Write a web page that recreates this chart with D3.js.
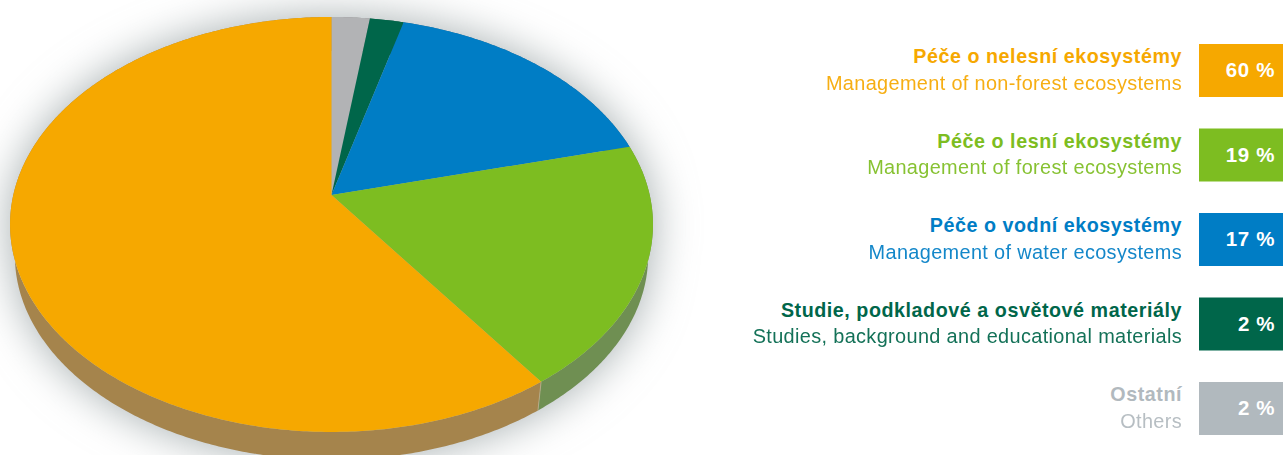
<!DOCTYPE html>
<html>
<head>
<meta charset="utf-8">
<script src="https://cdn.jsdelivr.net/npm/d3@7"></script>
<style>
  html, body { margin: 0; padding: 0; background: #fff; overflow: hidden; }
  text { font-family: "Liberation Sans", sans-serif; }
</style>
</head>
<body>
<div id="chart"></div>
<script>
const titles = ["Péče o nelesní ekosystémy", "Péče o lesní ekosystémy", "Péče o vodní ekosystémy", "Studie, podkladové a osvětové materiály", "Ostatní"];
const subtitles = ["Management of non-forest ecosystems", "Management of forest ecosystems", "Management of water ecosystems", "Studies, background and educational materials", "Others"];
const shares = [60, 19, 17, 2, 2];
// slice sizes as measured on the disc, the printed labels are rounded
const measuredShares = [59.9, 19.05, 16.9, 1.95, 2.2];
const legendColors = ["#f6a800", "#7dbd21", "#007dc5", "#00664a", "#b1b9be"];
const faceColors = ["#f6a800", "#7dbd21", "#007dc5", "#00664a", "#b2b3b5"];
const wallColors = ["#a5844c", "#6f8f52", "#3c6f8c", "#1d5a48", "#8d8d8d"];

// slices run clockwise from 12 o'clock: grey, dark green, blue, lime, orange
const sliceOrder = [4, 3, 2, 1, 0];

const width = 1283, height = 455;

const svg = d3.select("#chart").append("svg")
    .attr("width", width)
    .attr("height", height);

const defs = svg.append("defs");
defs.append("filter")
    .attr("id", "blur")
    .attr("x", "-20%").attr("y", "-20%")
    .attr("width", "140%").attr("height", "140%")
    .append("feGaussianBlur")
    .attr("stdDeviation", 22);

// pie lies on a tilted plane, so the centre sits above the middle of the ellipse
const apexX = 331.5, apexY = 195;
const tilt = 0.142, scaleU = 318.2, scaleV = 203.3;

const project = (angle, shrink = 1, drop = 0) => {
    const u = Math.sin(angle), v = -Math.cos(angle);
    const w = 1 - tilt * v;
    return [
        apexX + shrink * scaleU * u / w,
        apexY + drop + shrink * scaleV * v / w + (1 - shrink) * 29.5
    ];
};

const arcPoints = (a0, a1, shrink, drop) => {
    const n = Math.max(2, Math.ceil((a1 - a0) / 0.01));
    return d3.range(n + 1).map((i) => project(a0 + (a1 - a0) * i / n, shrink, drop));
};

const line = d3.line().curve(d3.curveLinear);

const pie = d3.pie().sort(null).value((d) => measuredShares[d]);
const slices = pie(sliceOrder);

const wallShrink = 0.985, wallDrop = 31;

// soft shadow round the whole disc
const shadow = svg.append("g").attr("filter", "url(#blur)").attr("fill", "#a4adaf");
shadow.append("path").attr("d", line(arcPoints(0, 2 * Math.PI, 1, 0)) + "Z");
shadow.append("path").attr("d", line(arcPoints(0, 2 * Math.PI, wallShrink, wallDrop)) + "Z");

// side wall
svg.append("g").selectAll("path")
    .data(slices)
    .join("path")
    .attr("d", (d) => {
        const top = arcPoints(d.startAngle, d.endAngle, 1, 0);
        const bottom = arcPoints(d.startAngle, d.endAngle, wallShrink, wallDrop).reverse();
        return line(top.concat(bottom)) + "Z";
    })
    .attr("fill", (d) => wallColors[d.data]);

// light seam where lime wall meets orange wall
const seam = slices.find((d) => d.data === 0);
svg.append("path")
    .attr("d", line([project(seam.startAngle), project(seam.startAngle, wallShrink, wallDrop)]))
    .attr("stroke", "#b9b08f")
    .attr("stroke-width", 0.8)
    .attr("fill", "none");

// top face
svg.append("g").selectAll("path")
    .data(slices)
    .join("path")
    .attr("d", (d) => line([[apexX, apexY]].concat(arcPoints(d.startAngle, d.endAngle, 1, 0))) + "Z")
    .attr("fill", (d) => faceColors[d.data]);

// legend
const rowY = d3.scaleLinear().domain([0, titles.length - 1]).range([44, 382]);
const boxH = 53;

const rows = svg.append("g").selectAll("g")
    .data(titles)
    .join("g")
    .attr("transform", (d, i) => `translate(0,${rowY(i)})`);

rows.append("rect")
    .attr("x", 1199)
    .attr("width", 84)
    .attr("height", boxH)
    .attr("fill", (d, i) => legendColors[i]);

rows.append("text")
    .attr("x", 1182)
    .attr("y", 19)
    .attr("text-anchor", "end")
    .attr("font-size", 19.7)
    .attr("font-weight", "bold")
    .attr("letter-spacing", 0.55)
    .attr("fill", (d, i) => legendColors[i])
    .text((d) => d);

rows.append("text")
    .attr("x", 1182)
    .attr("y", 45.5)
    .attr("text-anchor", "end")
    .attr("font-size", 19.9)
    .attr("letter-spacing", 0.35)
    .attr("fill", (d, i) => legendColors[i])
    .attr("opacity", 0.92)
    .text((d, i) => subtitles[i]);

rows.append("text")
    .attr("x", 1275)
    .attr("y", 33)
    .attr("text-anchor", "end")
    .attr("font-size", 20.5)
    .attr("font-weight", "bold")
    .attr("letter-spacing", 0.6)
    .attr("fill", "#fff")
    .text((d, i) => shares[i] + " %");
</script>
</body>
</html>
